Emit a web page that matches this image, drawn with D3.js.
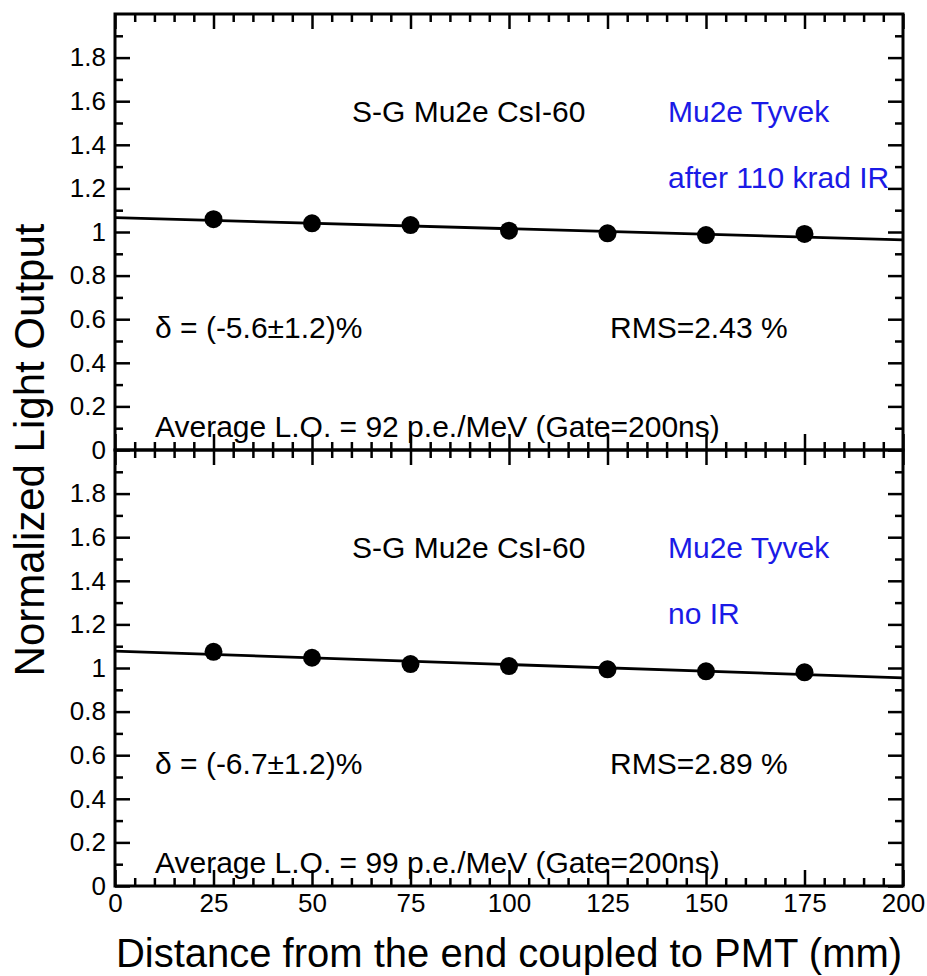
<!DOCTYPE html>
<html>
<head>
<meta charset="utf-8">
<script src="https://cdn.jsdelivr.net/npm/d3@7"></script>
<style>
  body { margin: 0; background: #fff; }
  svg { display: block; }
</style>
</head>
<body>
<svg id="chart"></svg>
<script>
// data
const positions = [25, 50, 75, 100, 125, 150, 175];
const loIrradiated = [1.059, 1.040, 1.032, 1.006, 0.994, 0.986, 0.991];
const loNoIR = [1.074, 1.047, 1.018, 1.009, 0.994, 0.985, 0.980];
const fitX = [0, 200];
const fitIrradiated = [1.066, 0.964];
const fitNoIR = [1.077, 0.955];

const xTickLabels = [0, 25, 50, 75, 100, 125, 150, 175, 200];
const yTickLabels = [0, 0.2, 0.4, 0.6, 0.8, 1, 1.2, 1.4, 1.6, 1.8];

const panels = [
  { values: loIrradiated, fit: fitIrradiated, crystal: "S-G Mu2e CsI-60", wrap: "Mu2e Tyvek",
    dose: "after 110 krad IR", delta: "δ = (-5.6±1.2)%", rms: "RMS=2.43 %",
    avg: "Average L.O. = 92 p.e./MeV (Gate=200ns)" },
  { values: loNoIR, fit: fitNoIR, crystal: "S-G Mu2e CsI-60", wrap: "Mu2e Tyvek",
    dose: "no IR", delta: "δ = (-6.7±1.2)%", rms: "RMS=2.89 %",
    avg: "Average L.O. = 99 p.e./MeV (Gate=200ns)" }
];

const width = 927, height = 976;
const marginLeft = 115, marginTop = 14;
const plotW = 788, panelH = 436;
const font = "'Liberation Sans', Arial, Helvetica, sans-serif";

const svg = d3.select("#chart")
  .attr("width", width)
  .attr("height", height)
  .style("font-family", font);

const x = d3.scaleLinear().domain([0, 200]).range([0, plotW]);
const y = d3.scaleLinear().domain([0, 2]).range([panelH, 0]);

const xMinor = d3.range(0, 201, 5).filter(v => v % 25 !== 0);
const yMinor = d3.range(1, 20, 2).map(v => v / 10);
const fmt = d => String(+d.toFixed(1));

function styleAxis(g) {
  g.select(".domain").remove();
  g.selectAll("line").attr("stroke", "#000").attr("stroke-width", 2.5);
  g.selectAll("text").attr("fill", "#000");
  g.attr("font-size", 26).attr("font-family", font);
}

panels.forEach((p, i) => {
  const g = svg.append("g")
    .attr("transform", `translate(${marginLeft}, ${marginTop + i * panelH})`);

  // left axis
  g.append("g").call(d3.axisLeft(y).tickValues(yMinor).tickSize(-8).tickFormat("")).call(styleAxis);
  g.append("g").call(d3.axisLeft(y).tickValues(yTickLabels).tickSizeInner(-15).tickSizeOuter(0)
      .tickPadding(9).tickFormat(fmt)).call(styleAxis);

  // right axis
  const r = g.append("g").attr("transform", `translate(${plotW},0)`);
  r.append("g").call(d3.axisRight(y).tickValues(yMinor).tickSize(-8).tickFormat("")).call(styleAxis);
  r.append("g").call(d3.axisRight(y).tickValues(yTickLabels).tickSize(-15).tickFormat("")).call(styleAxis);

  // top axis
  g.append("g").call(d3.axisTop(x).tickValues(xMinor).tickSize(-8).tickFormat("")).call(styleAxis);
  g.append("g").call(d3.axisTop(x).tickValues(xTickLabels).tickSize(-15).tickFormat("")).call(styleAxis);

  // bottom axis
  const b = g.append("g").attr("transform", `translate(0,${panelH})`);
  b.append("g").call(d3.axisBottom(x).tickValues(xMinor).tickSize(-8).tickFormat("")).call(styleAxis);
  b.append("g").call(d3.axisBottom(x).tickValues(xTickLabels).tickSizeInner(-16).tickSizeOuter(0)
      .tickPadding(8).tickFormat(i === panels.length - 1 ? d3.format("d") : "")).call(styleAxis);

  // frame
  g.append("rect")
    .attr("width", plotW).attr("height", panelH)
    .attr("fill", "none").attr("stroke", "#000").attr("stroke-width", 3);

  // fit line
  const line = d3.line().x(d => x(d[0])).y(d => y(d[1]));
  g.append("path")
    .datum(fitX.map((v, k) => [v, p.fit[k]]))
    .attr("d", line)
    .attr("fill", "none").attr("stroke", "#000").attr("stroke-width", 2.8);

  // points
  g.selectAll("circle.pt")
    .data(positions.map((v, k) => [v, p.values[k]]))
    .enter().append("circle")
      .attr("class", "pt")
      .attr("cx", d => x(d[0]))
      .attr("cy", d => y(d[1]))
      .attr("r", 9)
      .attr("fill", "#000");

  // annotations
  const t = (str, tx, ty, color) => g.append("text")
    .attr("x", tx).attr("y", ty)
    .attr("font-size", 30)
    .attr("fill", color || "#000")
    .text(str);

  t(p.crystal, 237, 108);
  t(p.wrap, 553, 108, "#1a1ae6");
  t(p.dose, 553, 174, "#1a1ae6");
  t(p.delta, 40, 324);
  t(p.rms, 495, 324);
  t(p.avg, 40, 423);
});

// axis titles
svg.append("text")
  .attr("transform", `translate(44, ${marginTop + panelH}) rotate(-90)`)
  .attr("text-anchor", "middle")
  .attr("font-size", 42)
  .text("Normalized Light Output");

svg.append("text")
  .attr("x", marginLeft + plotW / 2)
  .attr("y", 967)
  .attr("text-anchor", "middle")
  .attr("font-size", 40)
  .text("Distance from the end coupled to PMT (mm)");
</script>
</body>
</html>
